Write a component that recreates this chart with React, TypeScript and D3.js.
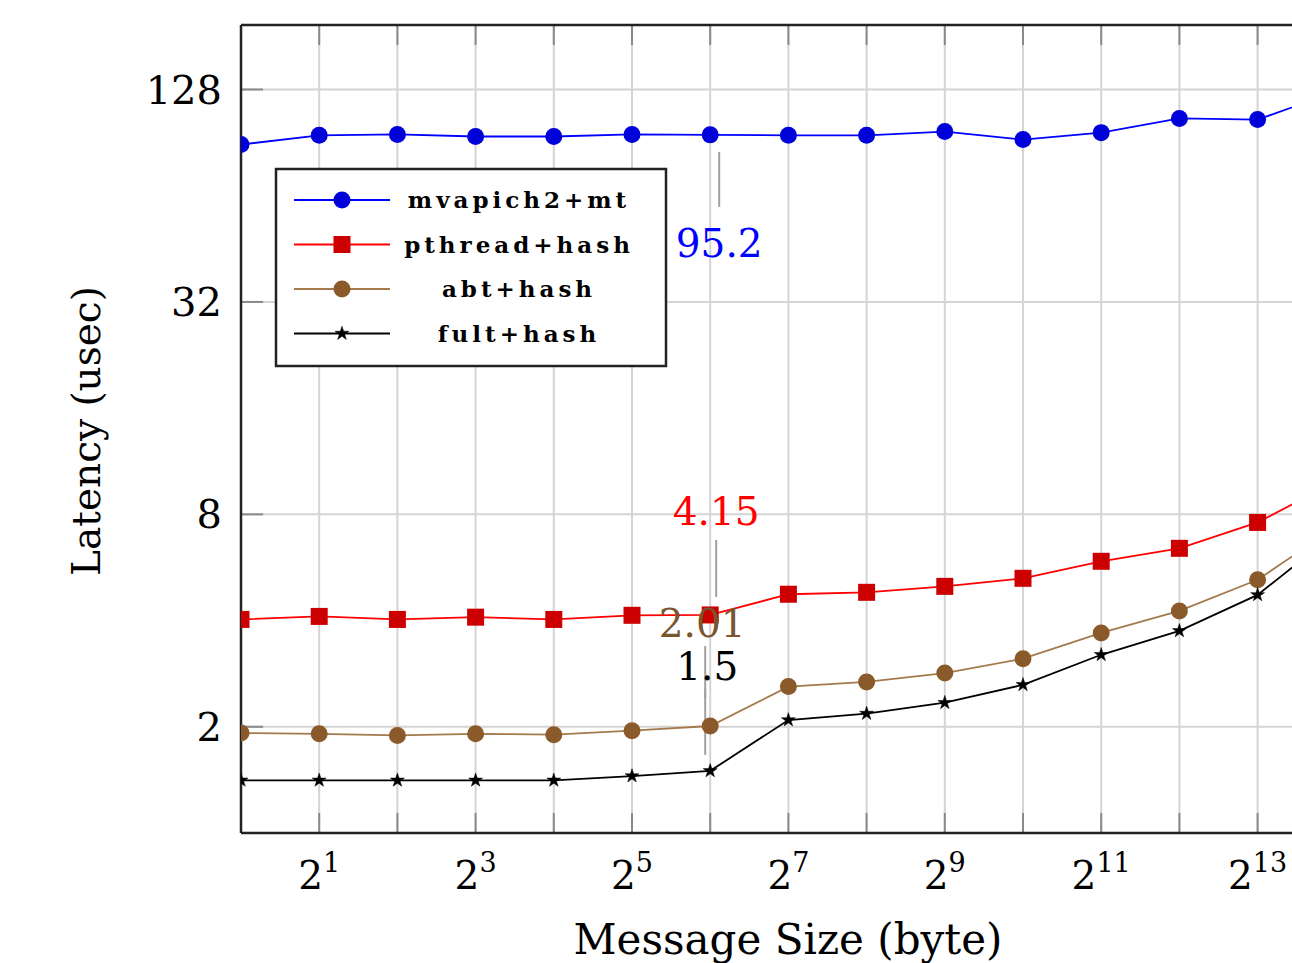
import React from 'react';
import * as d3 from 'd3';

// message sizes in bytes (2^0 .. 2^14)
const SIZES = [1, 2, 4, 8, 16, 32, 64, 128, 256, 512, 1024, 2048, 4096, 8192, 16384];

// latency in usec
const MVAPICH = [89.4, 94.9, 95.5, 94.2, 94.2, 95.5, 95.2, 94.9, 94.9, 97.3, 92.3, 96.6, 106, 105.2, 126];
const PTHREAD = [4.03, 4.11, 4.03, 4.09, 4.03, 4.14, 4.15, 4.75, 4.81, 5.0, 5.27, 5.89, 6.41, 7.59, 9.9];
const ABT = [1.92, 1.91, 1.89, 1.91, 1.9, 1.95, 2.01, 2.6, 2.68, 2.84, 3.12, 3.69, 4.26, 5.22, 7.37];
const FULT = [1.41, 1.41, 1.41, 1.41, 1.41, 1.45, 1.5, 2.09, 2.18, 2.34, 2.63, 3.2, 3.74, 4.73, 7.09];

const Y_TICKS = [2, 8, 32, 128];
const X_LABEL_EXP = [1, 3, 5, 7, 9, 11, 13];

const SERIES = [
  { name: 'mvapich2+mt', values: MVAPICH, line: '#0000ff', fill: '#0000d8', mark: 'circle' },
  { name: 'pthread+hash', values: PTHREAD, line: '#ff0000', fill: '#cc0000', mark: 'square' },
  { name: 'abt+hash', values: ABT, line: '#a47a4c', fill: '#8a5a2b', mark: 'circle' },
  { name: 'fult+hash', values: FULT, line: '#000000', fill: '#000000', mark: 'star' }
];

// pinned value labels: series index, point index, label
const PINS = [
  { s: 0, i: 6, text: '95.2', color: '#0000ff', from: 17, to: 72, ty: 122 },
  { s: 1, i: 6, text: '4.15', color: '#ff0000', from: -18, to: -75, ty: -90 },
  { s: 2, i: 6, text: '2.01', color: '#7a5630', from: -28, to: -80, ty: -89 },
  { s: 3, i: 6, text: '1.5', color: '#000000', from: -16, to: -82, ty: -91 }
];

const FONT = '"DejaVu Serif", "Liberation Serif", serif';

const left = 241, top = 25, bottom = 833;
const x = d3.scaleLog().base(2).domain([1, 32768]).range([left, left + 78.2 * 15]);
const y = d3.scaleLog().base(2).domain([1, 195]).range([bottom, top]);

function Marker({ kind, cx, cy, fill }) {
  if (kind === 'square') {
    return <rect x={cx - 8.5} y={cy - 8.5} width={17} height={17} fill={fill} />;
  }
  if (kind === 'star') {
    const p = d3.symbol().type(d3.symbolStar).size(60)();
    return <path d={p} transform={`translate(${cx},${cy})`} fill="#000" stroke="#000" strokeWidth={0.5} />;
  }
  return <circle cx={cx} cy={cy} r={8.5} fill={fill} />;
}

export default function App() {
  const line = d3.line<number>().x((d, i) => x(SIZES[i])).y(d => y(d));
  const xRight = 1300;

  return (
    <svg width={1292} height={963} style={{ position: 'absolute', left: 0, top: 0, background: '#fff' }}>
      <defs>
        <clipPath id="plot">
          <rect x={left} y={top} width={xRight - left} height={bottom - top} />
        </clipPath>
      </defs>
      {/* grid */}
      <g stroke="#d4d4d4" strokeWidth={2}>
        {SIZES.map(s => <line key={s} x1={x(s)} x2={x(s)} y1={top} y2={bottom} />)}
        {Y_TICKS.map(t => <line key={t} x1={left} x2={xRight} y1={y(t)} y2={y(t)} />)}
      </g>
      {/* ticks */}
      <g stroke="#8a8a8a" strokeWidth={2}>
        {SIZES.map(s => (
          <g key={s}>
            <line x1={x(s)} x2={x(s)} y1={bottom} y2={bottom - 20} />
            <line x1={x(s)} x2={x(s)} y1={top} y2={top + 20} />
          </g>
        ))}
        {Y_TICKS.map(t => <line key={t} x1={left} x2={left + 22} y1={y(t)} y2={y(t)} />)}
      </g>
      {/* frame */}
      <g stroke="#222" strokeWidth={2.5} fill="none">
        <line x1={left} x2={left} y1={top} y2={bottom} />
        <line x1={left} x2={xRight} y1={bottom} y2={bottom} />
        <line x1={left} x2={xRight} y1={top} y2={top} />
      </g>
      {/* pins */}
      {PINS.map(p => {
        const cx = x(SIZES[p.i]) + (p.s === 0 ? 9 : p.s === 1 ? 6 : -5);
        const cy = y(SERIES[p.s].values[p.i]);
        return (
          <g key={p.text}>
            <line x1={cx} x2={cx} y1={cy + p.from} y2={cy + p.to} stroke="#a0a0a0" strokeWidth={2} />
          </g>
        );
      })}
      {/* series */}
      <g clipPath="url(#plot)">
        {SERIES.map(s => (
          <g key={s.name}>
            <path d={line(s.values) || ''} fill="none" stroke={s.line} strokeWidth={1.8} />
            {s.values.map((v, i) => (
              <Marker key={i} kind={s.mark} cx={x(SIZES[i])} cy={y(v)} fill={s.fill} />
            ))}
          </g>
        ))}
      </g>
      {/* pin labels */}
      <g fontFamily={FONT} fontSize={39} textAnchor="middle">
        {PINS.map(p => {
          const cx = x(SIZES[p.i]) + (p.s === 0 ? 9 : p.s === 1 ? 6 : p.s === 2 ? -8 : -3);
          const cy = y(SERIES[p.s].values[p.i]);
          return <text key={p.text} x={cx} y={cy + p.ty} fill={p.color}>{p.text}</text>;
        })}
      </g>
      {/* y tick labels */}
      <g fontFamily={FONT} fontSize={40} textAnchor="end" fill="#000">
        {Y_TICKS.map(t => <text key={t} x={222} y={y(t) + 14}>{t}</text>)}
      </g>
      {/* x tick labels */}
      <g fontFamily={FONT} fill="#000" textAnchor="middle">
        {X_LABEL_EXP.map(e => (
          <text key={e} x={x(2 ** e)} y={889} fontSize={39}>
            2<tspan fontSize={27} dy={-17}>{e}</tspan>
          </text>
        ))}
      </g>
      {/* axis titles */}
      <text x={788} y={954} fontFamily={FONT} fontSize={42} textAnchor="middle">Message Size (byte)</text>
      <text transform="translate(100,431) rotate(-90)" fontFamily={FONT} fontSize={39} textAnchor="middle">Latency (usec)</text>
      {/* legend */}
      <g>
        <rect x={276} y={169} width={390} height={197} fill="#fff" stroke="#222" strokeWidth={2.5} />
        {SERIES.map((s, k) => {
          const ry = 200 + k * 44.5;
          return (
            <g key={s.name}>
              <line x1={294} x2={390} y1={ry} y2={ry} stroke={s.line} strokeWidth={1.8} />
              <Marker kind={s.mark} cx={342} cy={ry} fill={s.fill} />
              <text x={519} y={ry + 8} fontFamily={FONT} fontSize={23} fontWeight="bold" letterSpacing={4} textAnchor="middle">{s.name}</text>
            </g>
          );
        })}
      </g>
    </svg>
  );
}
